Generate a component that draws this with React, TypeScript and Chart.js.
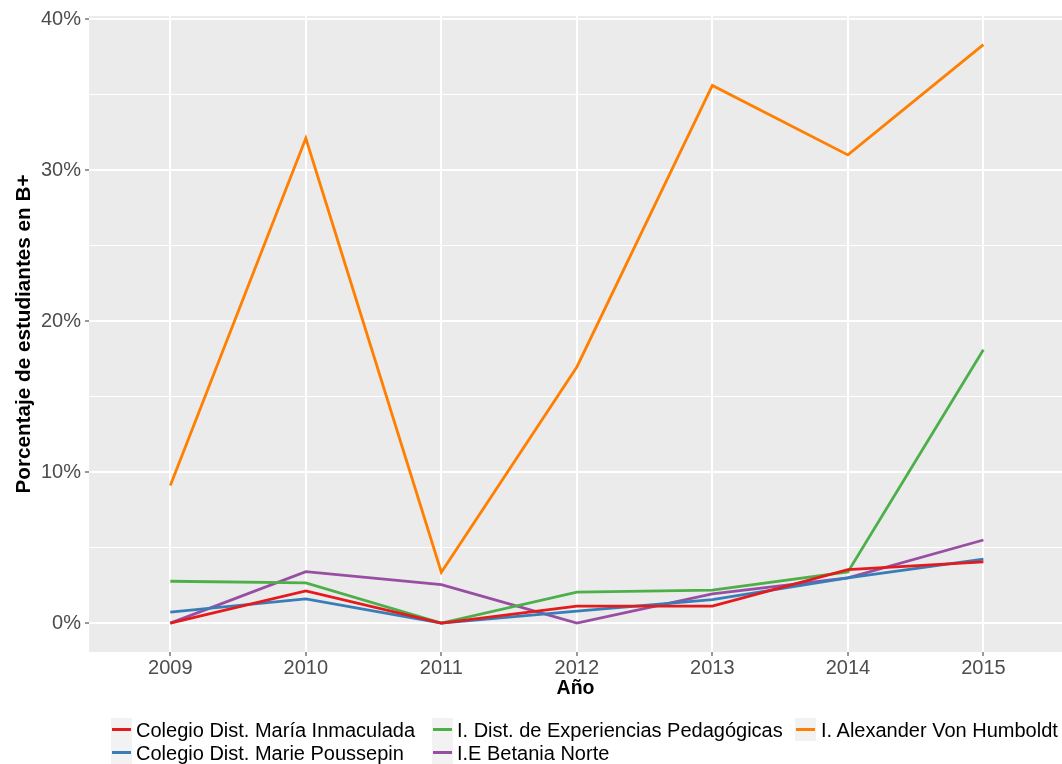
import React, { useEffect, useRef } from "react";
import { Chart, registerables } from "chart.js";

Chart.register(...registerables);

const years = [2009, 2010, 2011, 2012, 2013, 2014, 2015];
const mariaInmaculada = [0, 2.13, 0, 1.12, 1.12, 3.54, 4.05];
const mariePoussepin = [0.73, 1.6, 0, 0.79, 1.56, 2.99, 4.24];
const experiencias = [2.77, 2.66, 0, 2.05, 2.18, 3.39, 18.1];
const betania = [0, 3.41, 2.55, 0, 1.94, 2.99, 5.5];
const humboldt = [9.11, 32.1, 3.37, 16.96, 35.6, 31.0, 38.3];
const yTicks = [0, 5, 10, 15, 20, 25, 30, 35, 40];

const seriesNames = [
  "Colegio Dist. María Inmaculada",
  "Colegio Dist. Marie Poussepin",
  "I. Dist. de Experiencias Pedagógicas",
  "I.E Betania Norte",
  "I. Alexander Von Humboldt",
];
const seriesColors = ["#E41A1C", "#377EB8", "#4DAF4A", "#984EA3", "#FF7F00"];
const seriesValues = [mariaInmaculada, mariePoussepin, experiencias, betania, humboldt];

const FONT = "'Liberation Sans', Arial, Helvetica, sans-serif";

const panelBg = {
  id: "panelBg",
  beforeDraw(chart: any) {
    const { ctx, chartArea } = chart;
    ctx.save();
    ctx.fillStyle = "#EBEBEB";
    ctx.fillRect(chartArea.left, chartArea.top, chartArea.right - chartArea.left, chartArea.bottom - chartArea.top);
    ctx.restore();
  },
};

// legend layout: column-major order as in the reference
const legendItems = [
  { idx: 0, keyX: 111, textX: 136, cy: 729.5 },
  { idx: 1, keyX: 111, textX: 136, cy: 752.5 },
  { idx: 2, keyX: 432, textX: 457, cy: 729.5 },
  { idx: 3, keyX: 432, textX: 457, cy: 752.5 },
  { idx: 4, keyX: 795, textX: 821, cy: 729.5 },
];

export default function App() {
  const ref = useRef<HTMLCanvasElement>(null);

  useEffect(() => {
    const canvas = ref.current!;
    const chart = new Chart(canvas, {
      type: "line",
      data: {
        datasets: seriesValues.map((vals, i) => ({
          label: seriesNames[i],
          data: years.map((y, j) => ({ x: y, y: vals[j] })),
          borderColor: seriesColors[i],
          backgroundColor: seriesColors[i],
          borderWidth: 2.8,
          pointRadius: 0,
          tension: 0,
          fill: false,
        })),
      },
      options: {
        animation: false,
        responsive: false,
        devicePixelRatio: 1,
        layout: { padding: { top: 13, right: 0, left: 0, bottom: 64 } },
        plugins: {
          legend: { display: false },
          tooltip: { enabled: false },
        },
        scales: {
          x: {
            type: "linear",
            min: 2008.4,
            max: 2015.58,
            afterBuildTicks: (scale: any) => {
              scale.ticks = years.map((v) => ({ value: v }));
            },
            afterFit: (scale: any) => {
              scale.height = 48;
            },
            ticks: {
              autoSkip: false,
              maxRotation: 0,
              padding: 0,
              color: "#4D4D4D",
              font: { family: FONT, size: 20 },
              callback: (v: any) => String(v),
            },
            grid: {
              color: "#FFFFFF",
              lineWidth: 2,
              tickLength: 4,
              tickColor: "#333333",
              tickWidth: 1,
            },
            border: { display: false },
            title: {
              display: true,
              text: "Año",
              color: "#000000",
              font: { family: FONT, size: 19.5, weight: "bold" },
              padding: { top: 0, bottom: 0 },
            },
          },
          y: {
            type: "linear",
            min: -1.915,
            max: 40.2,
            afterBuildTicks: (scale: any) => {
              scale.ticks = yTicks.map((v) => ({ value: v }));
            },
            afterFit: (scale: any) => {
              scale.width = 89;
            },
            ticks: {
              autoSkip: false,
              padding: 4,
              color: "#4D4D4D",
              font: { family: FONT, size: 20 },
              callback: (v: any) => (Math.round(v) % 10 === 0 ? Math.round(v) + "%" : ""),
            },
            grid: {
              color: "#FFFFFF",
              lineWidth: (ctx: any) => (Math.round(ctx.tick?.value ?? 0) % 10 === 0 ? 2 : 1),
              tickLength: 4,
              tickColor: (ctx: any) => (Math.round(ctx.tick?.value ?? 0) % 10 === 0 ? "#333333" : "rgba(0,0,0,0)"),
              tickWidth: 1,
            },
            border: { display: false },
            title: {
              display: true,
              text: "Porcentaje de estudiantes en B+",
              color: "#000000",
              font: { family: FONT, size: 20.7, weight: "bold" },
              padding: { top: 12, bottom: 0 },
            },
          },
        },
      },
      plugins: [panelBg],
    } as any);
    return () => chart.destroy();
  }, []);

  return (
    <div
      style={{
        position: "fixed",
        left: 0,
        top: 0,
        width: 1062,
        height: 764,
        background: "#FFFFFF",
        overflow: "hidden",
      }}
    >
      <canvas ref={ref} width={1062} height={764} style={{ position: "absolute", left: 0, top: 0, width: 1062, height: 764 }} />
      {legendItems.map((it) => (
        <React.Fragment key={it.idx}>
          <div
            style={{
              position: "absolute",
              left: it.keyX,
              top: it.cy - 11.5,
              width: 21,
              height: 23,
              background: "#F2F2F2",
            }}
          >
            <div
              style={{
                position: "absolute",
                left: 1,
                right: 1,
                top: 10.2,
                height: 2.6,
                background: seriesColors[it.idx],
              }}
            />
          </div>
          <div
            style={{
              position: "absolute",
              left: it.textX,
              top: it.cy - 12,
              height: 24,
              lineHeight: "24px",
              fontFamily: FONT,
              fontSize: 20,
              color: "#000000",
              whiteSpace: "nowrap",
            }}
          >
            {seriesNames[it.idx]}
          </div>
        </React.Fragment>
      ))}
    </div>
  );
}
